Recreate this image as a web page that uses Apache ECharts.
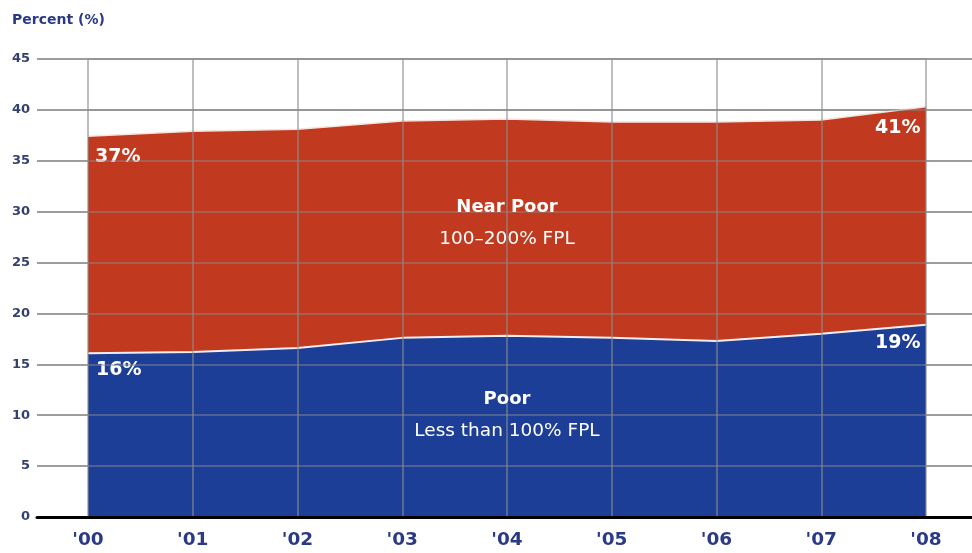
<!DOCTYPE html>
<html>
<head>
<meta charset="utf-8">
<script src="https://cdn.jsdelivr.net/npm/echarts@6/dist/echarts.min.js"></script>
<style>html,body{margin:0;padding:0;background:#fff;}#c{width:972px;height:553px;}</style>
</head>
<body>
<div id="c"></div>
<script>
var years = ["'00", "'01", "'02", "'03", "'04", "'05", "'06", "'07", "'08"];
var totalLowIncome = [37.4, 37.9, 38.1, 38.9, 39.1, 38.8, 38.8, 39.0, 40.3];
var poor = [16.1, 16.2, 16.6, 17.6, 17.8, 17.6, 17.3, 18.0, 18.9];
var yTicks = [0, 5, 10, 15, 20, 25, 30, 35, 40, 45];
var startLabels = ["37%", "16%"];
var endLabels = ["41%", "19%"];

var RED = '#c1391f', BLUE = '#1d3e96', NAVY = '#2a3a86';
var FONT = '"DejaVu Sans", sans-serif';

function labelled(arr, first, last, offFirst, offLast) {
  return arr.map(function (v, i) {
    if (i === 0) return {value: v, label: {show: true, formatter: first, position: offFirst}};
    if (i === arr.length - 1) return {value: v, label: {show: true, formatter: last, position: offLast}};
    return v;
  });
}

var chart = echarts.init(document.getElementById('c'), null, {renderer: 'canvas'});
var labelStyle = {show: false, color: '#fff', fontSize: 19, fontWeight: 'bold', fontFamily: FONT};
var richMid = {
  b: {fontWeight: 'bold', fontSize: 18, color: '#fff', fontFamily: FONT, lineHeight: 32, align: 'center'},
  n: {fontSize: 18.5, color: '#fff', fontFamily: FONT, lineHeight: 32, align: 'center'}
};
chart.setOption({
  animation: false,
  title: {text: 'Percent (%)', left: 7, top: 8, textStyle: {color: NAVY, fontSize: 14, fontWeight: 'bold', fontFamily: FONT}},
  grid: [
    {left: 37, right: 0, top: 59, bottom: 36},
    {left: 88, right: 46, top: 59, bottom: 36}
  ],
  xAxis: [
    {gridIndex: 0, type: 'category', data: years, boundaryGap: false, z: 10,
     axisLine: {show: true, lineStyle: {color: '#000', width: 3}},
     axisTick: {show: false}, axisLabel: {show: false}, splitLine: {show: false}},
    {gridIndex: 1, type: 'category', data: years, boundaryGap: false, z: 5,
     axisLine: {show: false}, axisTick: {show: false},
     axisLabel: {show: true, color: NAVY, fontSize: 18.5, fontWeight: 'bold', fontFamily: FONT, margin: 14},
     splitLine: {show: true, lineStyle: {color: 'rgba(140,140,140,0.75)', width: 1.5}}}
  ],
  yAxis: [
    {gridIndex: 0, type: 'value', min: 0, max: 45, interval: 5, z: 1,
     axisLine: {show: false}, axisTick: {show: false},
     axisLabel: {color: '#34406e', fontSize: 13, fontWeight: 'bold', fontFamily: FONT, margin: 7,
       formatter: function (v) { return yTicks.indexOf(v) >= 0 ? String(v) : ''; }},
     splitLine: {show: true, lineStyle: {color: '#7d7d7d', width: 1.5}}},
    {gridIndex: 1, type: 'value', min: 0, max: 45, interval: 5, z: 5,
     axisLine: {show: false}, axisTick: {show: false}, axisLabel: {show: false},
     splitLine: {show: true, lineStyle: {color: 'rgba(140,140,140,0.6)', width: 1.5}}}
  ],
  series: [
    {name: 'Near Poor', type: 'line', xAxisIndex: 1, yAxisIndex: 1, z: 2,
     data: labelled(totalLowIncome, startLabels[0], endLabels[0], [7, 11], [-51, 12]),
     symbol: 'circle', symbolSize: 0, showSymbol: true,
     lineStyle: {color: '#f3e3dc', width: 1.5},
     itemStyle: {color: RED},
     areaStyle: {color: RED, opacity: 1},
     label: labelStyle,
     markPoint: {symbol: 'circle', symbolSize: 0, silent: true,
       data: [{coord: ["'04", 28.9], value: 0,
         label: {show: true, formatter: '{b|Near Poor}\n{n|100–200% FPL}', rich: richMid}}]}},
    {name: 'Poor', type: 'line', xAxisIndex: 1, yAxisIndex: 1, z: 3,
     data: labelled(poor, startLabels[1], endLabels[1], [8, 7], [-51, 9]),
     symbol: 'circle', symbolSize: 0, showSymbol: true,
     lineStyle: {color: '#f5eeee', width: 2},
     itemStyle: {color: BLUE},
     areaStyle: {color: BLUE, opacity: 1},
     label: labelStyle,
     markPoint: {symbol: 'circle', symbolSize: 0, silent: true,
       data: [{coord: ["'04", 10.0], value: 0,
         label: {show: true, formatter: '{b|Poor}\n{n|Less than 100% FPL}', rich: richMid}}]}}
  ]
});
</script>
</body>
</html>
